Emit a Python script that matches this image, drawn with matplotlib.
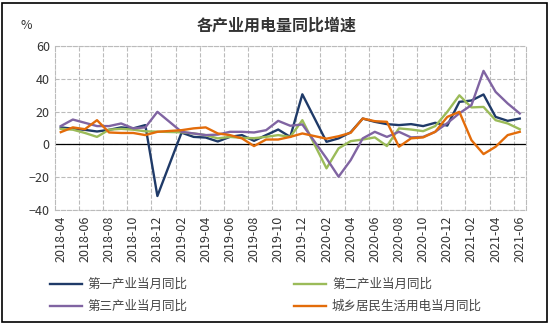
import numpy as np
import matplotlib
matplotlib.use('Agg')
import matplotlib.pyplot as plt
from matplotlib.patches import Rectangle

plt.rcParams['font.family'] = ['Noto Sans CJK SC', 'DejaVu Sans']

nan = np.nan

# months 2018-04 .. 2021-06 (January values of 2019 and 2020 are missing)
months = []
for y in range(2018, 2022):
    for m in range(1, 13):
        if (y == 2018 and m < 4) or (y == 2021 and m > 6):
            continue
        months.append(f'{y}-{m:02d}')

primary = [10.4, 9.6, 8.9, 7.9, 8.9, 10.4, 9.8, 11.8, -31.5, nan,
           7.2, 4.6, 4.2, 1.8, 4.6, 5.7, 2.2, 5.7, 9.1, 4.6,
           30.6, nan, 1.6, 3.7, 7.4, 15.8, 13.8, 12.4, 11.8, 12.4,
           11.2, 13.2, 11.5, 26.0, 26.8, 30.5, 16.8, 14.4, 15.8]
secondary = [9.5, 9.0, 7.0, 4.6, 9.0, 9.5, 9.0, 8.0, 7.8, nan,
             7.4, 6.7, 5.7, 3.7, 4.6, 4.0, 3.8, 4.6, 5.7, 4.6,
             14.8, nan, -14.6, -2.4, 2.0, 3.0, 4.3, -1.0, 9.8, 9.1,
             8.1, 11.2, 19.9, 30.0, 22.6, 22.9, 14.8, 12.8, 9.3]
tertiary = [11.2, 15.2, 13.2, 11.2, 11.2, 12.8, 9.8, 10.4, 19.9, nan,
            7.7, 6.7, 5.7, 6.0, 7.7, 7.7, 7.3, 8.7, 14.4, 11.4,
            12.2, nan, -8.5, -19.7, -9.6, 3.7, 7.7, 4.6, 7.7, 4.3,
            4.6, 7.7, 13.0, 19.0, 24.0, 44.9, 32.1, 25.0, 18.9]
resident = [7.5, 10.4, 9.3, 14.8, 7.3, 7.0, 7.0, 5.7, 7.7, nan,
            8.7, 9.8, 10.4, 6.7, 5.7, 3.7, -1.0, 3.0, 3.0, 4.6,
            6.7, nan, 3.5, 5.0, 7.1, 15.8, 14.2, 13.8, -1.4, 3.7,
            4.3, 7.7, 16.8, 19.9, 2.6, -5.9, -1.4, 5.7, 7.7]

names = ['第一产业当月同比', '第二产业当月同比', '第三产业当月同比', '城乡居民生活用电当月同比']
colors = ['#1F3A68', '#9BBB59', '#8064A2', '#E36C0A']
series = [primary, secondary, tertiary, resident]

fig = plt.figure(figsize=(5.5, 3.25), dpi=100)
ax = fig.add_axes([0.0995, 0.354, 0.8565, 0.504])

x = np.arange(len(months))
handles = []
for vals, c, name in zip(series, colors, names):
    v = np.array(vals)
    ok = ~np.isnan(v)
    h, = ax.plot(x[ok], v[ok], color=c, lw=1.7, label=name, zorder=3)
    handles.append(h)

ax.axhline(0, color='black', lw=0.9, zorder=2)

ax.set_xlim(-0.5, len(months) - 0.5)
ax.set_ylim(-40, 60)
ax.set_yticks(range(-40, 61, 20))
ax.set_xticks(x[::2])
ax.set_xticklabels(months[::2], rotation=90)
ax.set_xticks(np.arange(1.5, len(months) - 1, 2), minor=True)
ax.tick_params(axis='both', which='both', length=0, labelsize=9, colors='#333333')
ax.tick_params(axis='x', pad=4)
ax.grid(axis='y', which='major', color='#BBBBBB', ls='--', lw=0.8)
ax.grid(axis='x', which='minor', color='#BBBBBB', ls='--', lw=0.8)
for s in ax.spines.values():
    s.set_color('#BBBBBB')
    s.set_linestyle('--')
    s.set_linewidth(0.8)

fig.text(0.503, 0.92, '各产业用电量同比增速', ha='center', va='center',
         fontsize=11.5, fontweight='bold', color='#333333')
fig.text(0.047, 0.922, '%', ha='center', va='center', fontsize=9, color='#333333')

# legend fills column-wise, so order as first, third | second, fourth
order = [0, 2, 1, 3]
leg = fig.legend([handles[i] for i in order], [names[i] for i in order],
                 loc='upper left', bbox_to_anchor=(0.09, 0.145), ncol=2, frameon=False,
                 fontsize=9, handlelength=2.6, handletextpad=0.45, columnspacing=8.5,
                 labelspacing=0.75, borderpad=0, borderaxespad=0)
for t in leg.get_texts():
    t.set_color('#444444')

fig.add_artist(Rectangle((0.004, 0.008), 0.99, 0.982, transform=fig.transFigure,
                         fill=False, edgecolor='black', lw=1.2))

fig.savefig('out.png', dpi=100)
